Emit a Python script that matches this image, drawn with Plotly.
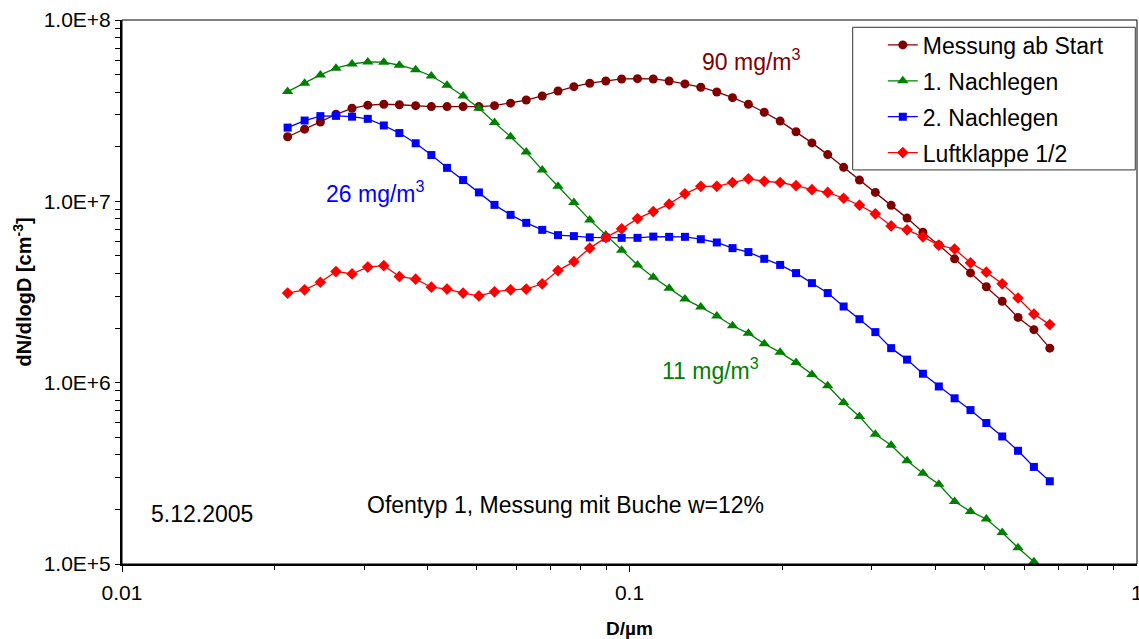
import plotly.graph_objects as go

# ---------------- data ----------------
diameter_um = [0.0212, 0.0229, 0.0246, 0.0264, 0.0284, 0.0305, 0.0328, 0.0352, 0.0379, 0.0407,
               0.0437, 0.0470, 0.0505, 0.0542, 0.0583, 0.0626, 0.0673, 0.0723, 0.0777, 0.0835,
               0.0898, 0.0965, 0.1037, 0.1114, 0.1197, 0.1286, 0.1382, 0.1486, 0.1596, 0.1715,
               0.1843, 0.1981, 0.2129, 0.2288, 0.2458, 0.2642, 0.2839, 0.3051, 0.3278, 0.3523,
               0.3786, 0.4069, 0.4371, 0.4698, 0.5048, 0.5425, 0.5829, 0.6264, 0.6732]

messung_ab_start = [2.27e7, 2.50e7, 2.74e7, 3.02e7, 3.26e7, 3.39e7, 3.43e7, 3.41e7, 3.37e7, 3.33e7,
                    3.33e7, 3.33e7, 3.33e7, 3.37e7, 3.48e7, 3.62e7, 3.81e7, 4.06e7, 4.29e7, 4.48e7,
                    4.61e7, 4.73e7, 4.75e7, 4.73e7, 4.61e7, 4.44e7, 4.26e7, 4.01e7, 3.73e7, 3.43e7,
                    3.10e7, 2.77e7, 2.42e7, 2.10e7, 1.81e7, 1.54e7, 1.31e7, 1.12e7, 9.50e6, 8.08e6,
                    6.75e6, 5.75e6, 4.82e6, 4.03e6, 3.38e6, 2.81e6, 2.29e6, 1.96e6, 1.55e6]

nachlegen_1 = [4.03e7, 4.48e7, 4.98e7, 5.42e7, 5.72e7, 5.87e7, 5.85e7, 5.63e7, 5.32e7, 4.91e7,
               4.37e7, 3.81e7, 3.26e7, 2.72e7, 2.27e7, 1.87e7, 1.49e7, 1.21e7, 9.84e6, 7.90e6,
               6.53e6, 5.38e6, 4.46e6, 3.81e6, 3.32e6, 2.89e6, 2.61e6, 2.33e6, 2.06e6, 1.87e6,
               1.64e6, 1.47e6, 1.29e6, 1.11e6, 9.61e5, 7.78e5, 6.51e5, 5.19e5, 4.52e5, 3.71e5,
               3.17e5, 2.75e5, 2.21e5, 1.95e5, 1.77e5, 1.49e5, 1.23e5, 1.03e5, 8.96e4]

nachlegen_2 = [2.55e7, 2.79e7, 2.95e7, 2.96e7, 2.93e7, 2.85e7, 2.62e7, 2.38e7, 2.09e7, 1.80e7,
               1.53e7, 1.31e7, 1.12e7, 9.56e6, 8.42e6, 7.61e6, 6.96e6, 6.51e6, 6.43e6, 6.33e6,
               6.31e6, 6.29e6, 6.29e6, 6.39e6, 6.37e6, 6.37e6, 6.18e6, 5.93e6, 5.52e6, 5.25e6,
               4.82e6, 4.46e6, 4.02e6, 3.54e6, 3.12e6, 2.63e6, 2.24e6, 1.90e6, 1.55e6, 1.34e6,
               1.12e6, 9.53e5, 8.20e5, 7.06e5, 5.99e5, 5.05e5, 4.21e5, 3.43e5, 2.86e5]

luftklappe_12 = [3.12e6, 3.25e6, 3.58e6, 4.10e6, 3.98e6, 4.34e6, 4.42e6, 3.85e6, 3.72e6, 3.36e6,
                 3.28e6, 3.12e6, 3.01e6, 3.17e6, 3.25e6, 3.28e6, 3.51e6, 4.15e6, 4.65e6, 5.52e6,
                 6.31e6, 7.05e6, 8.03e6, 8.78e6, 9.65e6, 1.10e7, 1.21e7, 1.21e7, 1.27e7, 1.33e7,
                 1.29e7, 1.27e7, 1.22e7, 1.16e7, 1.12e7, 1.04e7, 9.52e6, 8.53e6, 7.32e6, 6.96e6,
                 6.37e6, 5.73e6, 5.46e6, 4.58e6, 4.07e6, 3.51e6, 2.93e6, 2.39e6, 2.09e6]

series_names = ["Messung ab Start", "1. Nachlegen", "2. Nachlegen", "Luftklappe 1/2"]

x_tick_vals = [0.01, 0.1, 1]
x_tick_text = ["0.01", "0.1", "1"]
y_tick_vals = [1e5, 1e6, 1e7, 1e8]
y_tick_text = ["1.0E+5", "1.0E+6", "1.0E+7", "1.0E+8"]

# ---------------- styling ----------------
FONT = "Liberation Sans, Arial, sans-serif"
styles = [
    dict(color="#800000", symbol="circle", size=9),
    dict(color="#008000", symbol="triangle-up", size=10),
    dict(color="#0000FF", symbol="square", size=8),
    dict(color="#FF0000", symbol="diamond", size=9),
]
series_values = [messung_ab_start, nachlegen_1, nachlegen_2, luftklappe_12]

fig = go.Figure()
for i, (name, vals, st) in enumerate(zip(series_names, series_values, styles)):
    fig.add_trace(go.Scatter(
        x=diameter_um, y=vals, name=name, mode="lines+markers",
        line=dict(color=st["color"], width=1.3),
        marker=dict(symbol=st["symbol"], size=st["size"], color=st["color"],
                    line=dict(width=0)),
        legendgroup=f"g{i}",
    ))

minor_x = [m * 10.0 ** e for e in (-2, -1) for m in range(2, 10)]
minor_y = [m * 10.0 ** e for e in (5, 6, 7) for m in range(2, 10)]

fig.update_layout(
    width=1139, height=639,
    margin=dict(l=122, r=2, t=20, b=75, autoexpand=False),
    paper_bgcolor="white", plot_bgcolor="white",
    font=dict(family=FONT, color="black", size=21),
    legend=dict(
        x=0.72, y=0.9937, xanchor="left", yanchor="top",
        bgcolor="rgba(0,0,0,0)", borderwidth=0,
        font=dict(size=23, family=FONT, color="black"),
        tracegroupgap=3, traceorder="grouped", indentation=30,
    ),
    xaxis=dict(
        type="log", range=[-2, 0],
        showline=True, linecolor="black", linewidth=2,
        showgrid=False, zeroline=False,
        ticks="outside", ticklen=6, tickwidth=1, tickcolor="black",
        tickmode="array", tickvals=x_tick_vals[:-1], ticktext=x_tick_text[:-1],
        tickfont=dict(size=21), ticklabelstandoff=3,
        minor=dict(tickmode="array", tickvals=minor_x, ticks="outside", ticklen=4,
                   tickwidth=1, tickcolor="black", showgrid=False),
        title=dict(text="<b>D/µm</b>", font=dict(size=19), standoff=18),
    ),
    yaxis=dict(
        type="log", range=[5, 8],
        showline=True, linecolor="black", linewidth=2,
        showgrid=False, zeroline=False,
        ticks="outside", ticklen=5, tickwidth=1, tickcolor="black",
        tickmode="array", tickvals=y_tick_vals, ticktext=y_tick_text,
        tickfont=dict(size=21),
        minor=dict(tickmode="array", tickvals=minor_y, ticks="outside", ticklen=5,
                   tickwidth=1, tickcolor="black", showgrid=False),
    ),
    xaxis2=dict(
        type="log", range=[-2, 0], overlaying="x", anchor="y", side="bottom",
        showline=False, showgrid=False, zeroline=False,
        ticks="inside", ticklen=6, tickwidth=1, tickcolor="black",
        tickmode="array", tickvals=x_tick_vals, showticklabels=False,
    ),
    yaxis2=dict(
        type="log", range=[5, 8], overlaying="y", anchor="x", side="left",
        showline=False, showgrid=False, zeroline=False,
        ticks="inside", ticklen=6, tickwidth=1, tickcolor="black",
        tickmode="array", tickvals=y_tick_vals, showticklabels=False,
    ),
    shapes=[
        dict(type="rect", xref="paper", yref="paper", x0=0, x1=1, y0=0, y1=1,
             line=dict(color="black", width=1), fillcolor="rgba(0,0,0,0)", layer="above"),
        # legend frame
        dict(type="rect", xref="paper", yref="paper", x0=0.7199, x1=0.9983, y0=0.7244, y1=0.9866,
             line=dict(color="#333333", width=1), fillcolor="white", layer="above"),
    ],
)

# last x tick label (at the very right edge, partly cut off as in the original)
fig.add_annotation(text=x_tick_text[-1], xref="paper", yref="paper", x=1.0, y=-0.0525,
                   xanchor="center", yanchor="middle", showarrow=False,
                   font=dict(size=21, color="black", family=FONT))

# y-axis title placed as a rotated annotation
fig.add_annotation(text="<b>dN/dlogD [cm<sup>-3</sup>]</b>", xref="paper", yref="paper",
                   x=-0.099, y=0.50, xanchor="center", yanchor="middle", textangle=-90,
                   showarrow=False, font=dict(size=20, color="black", family=FONT))

annotations = [
    ("90 mg/m<sup>3</sup>", "#800000", 0.5695, 0.9265),
    ("26 mg/m<sup>3</sup>", "#0000FF", 0.199, 0.684),
    ("11 mg/m<sup>3</sup>", "#008000", 0.530, 0.3588),
    ("5.12.2005", "black", 0.0266, 0.0924),
    ("Ofentyp 1, Messung mit Buche w=12%", "black", 0.2394, 0.109),
]
for text, color, ax, ay in annotations:
    fig.add_annotation(text=text, xref="paper", yref="paper", x=ax, y=ay,
                       xanchor="left", yanchor="middle", showarrow=False,
                       font=dict(size=23, color=color, family=FONT))

fig.write_html("out.html")
